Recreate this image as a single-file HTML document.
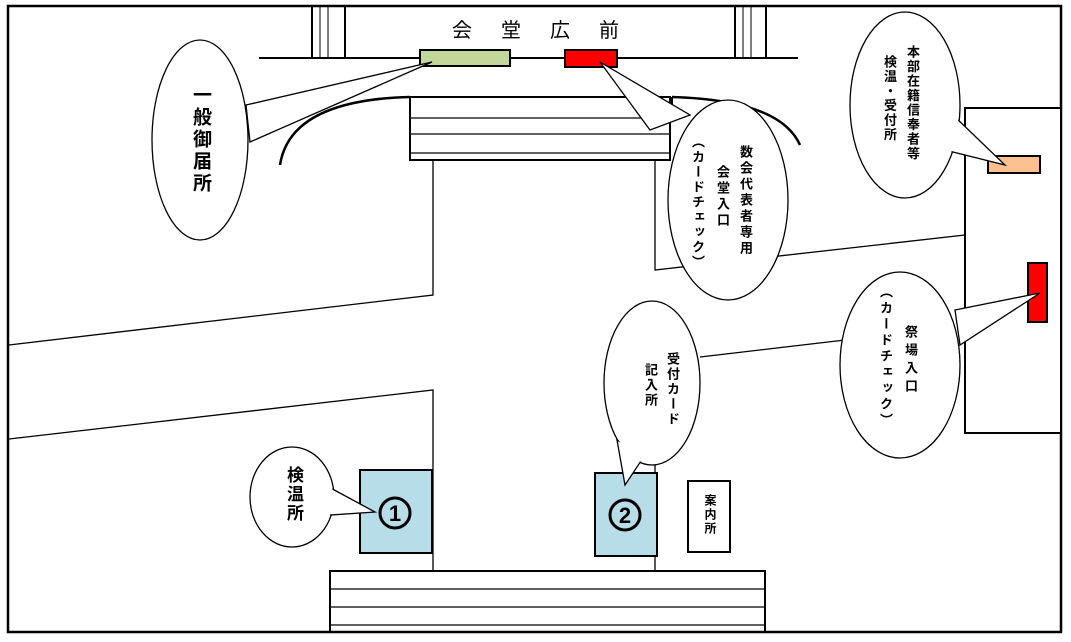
<!DOCTYPE html>
<html><head><meta charset="utf-8"><style>
html,body{margin:0;padding:0;background:#fff}
#w{position:relative;width:1071px;height:642px;overflow:hidden;font-family:"Liberation Sans","Noto Sans CJK JP",sans-serif}
.v{position:absolute;writing-mode:vertical-rl;font-weight:bold;font-size:13px;line-height:14px;width:14px;color:#000;white-space:nowrap;letter-spacing:3px}
.t{position:absolute;font-weight:bold;color:#000}
</style></head><body><div id="w">
<svg width="1071" height="642" style="position:absolute;left:0;top:0" fill="none" stroke="#000">
<rect x="8" y="6" width="1053" height="626" stroke-width="2.5"/>
<line x1="259" y1="58" x2="798" y2="58" stroke-width="2"/>
<g stroke-width="2"><line x1="312" y1="6" x2="312" y2="58"/><line x1="345" y1="6" x2="345" y2="58"/>
<line x1="735" y1="6" x2="735" y2="58"/><line x1="766" y1="6" x2="766" y2="58"/></g>
<g stroke-width="1"><line x1="320" y1="6" x2="320" y2="58"/><line x1="328" y1="6" x2="328" y2="58"/>
<line x1="743" y1="6" x2="743" y2="58"/><line x1="751" y1="6" x2="751" y2="58"/></g>
<rect x="420" y="50" width="90" height="16" fill="#c4d79b" stroke-width="2"/>
<rect x="565" y="50" width="52" height="17" fill="#f00" stroke-width="2"/>
<rect x="410" y="97" width="260" height="63" stroke-width="2" fill="#fff"/>
<g stroke-width="1.3"><line x1="410" y1="118" x2="670" y2="118"/><line x1="410" y1="134" x2="670" y2="134"/><line x1="410" y1="153" x2="670" y2="153"/></g>
<path d="M280 165 Q290 100 410 97" stroke-width="2.5"/>
<path d="M672 97 Q780 100 800 145" stroke-width="2.5"/>
<line x1="672" y1="97" x2="672" y2="118" stroke-width="2"/>
<g stroke-width="1.3">
<polyline points="433,160 433,295 9,345"/>
<polyline points="655,160 655,270 965,235"/>
<polyline points="9,439 433,390 433,570"/>
<line x1="655" y1="460" x2="655" y2="570"/>
<line x1="700" y1="357" x2="845" y2="340"/>
</g>
<rect x="330" y="571" width="435" height="61" stroke-width="2"/>
<g stroke-width="1.3"><line x1="330" y1="589" x2="765" y2="589"/><line x1="330" y1="607" x2="765" y2="607"/><line x1="330" y1="625" x2="765" y2="625"/></g>
<rect x="965" y="108" width="96" height="325" stroke-width="2" fill="#fff"/>
<rect x="988" y="156" width="52" height="17" fill="#fac090" stroke-width="2"/>
<rect x="1028" y="263" width="19" height="59" fill="#f00" stroke-width="2"/>
<rect x="360" y="470" width="72" height="83" fill="#b7dde8" stroke-width="2"/>
<rect x="595" y="473" width="62" height="83" fill="#b7dde8" stroke-width="2"/>
<rect x="688" y="481" width="42" height="71" fill="#fff" stroke-width="2"/>
<circle cx="395" cy="513" r="15" stroke-width="3"/>
<circle cx="625" cy="515" r="15" stroke-width="3"/>
<g fill="#000" stroke="none" font-family="Liberation Sans, sans-serif" font-weight="bold" font-size="22" text-anchor="middle">
<text x="395" y="521">1</text><text x="625" y="523">2</text></g>
<g stroke-width="1.3" fill="#fff">
<ellipse cx="200" cy="140" rx="48" ry="100"/>
<polygon points="246,105 432,62 250,142"/>
<ellipse cx="200" cy="140" rx="47" ry="99" stroke="none"/>
<ellipse cx="728" cy="200" rx="60" ry="100"/>
<polygon points="650,130 600,62 690,115"/>
<ellipse cx="728" cy="200" rx="59" ry="99" stroke="none"/>
<ellipse cx="905" cy="105" rx="55" ry="93"/>
<polygon points="953,115 1005,165 945,150"/>
<ellipse cx="905" cy="105" rx="54" ry="92" stroke="none"/>
<ellipse cx="900" cy="365" rx="60" ry="93"/>
<polygon points="955,310 1040,293 960,345"/>
<ellipse cx="900" cy="365" rx="59" ry="92" stroke="none"/>
<ellipse cx="652" cy="383" rx="48" ry="82"/>
<polygon points="617,440 625,485 645,455"/>
<ellipse cx="652" cy="383" rx="47" ry="81" stroke="none"/>
<ellipse cx="292" cy="497" rx="42" ry="50"/>
<polygon points="325,485 375,512 330,515"/>
<ellipse cx="292" cy="497" rx="41" ry="49" stroke="none"/>
</g>
</svg>
<div class="t" style="left:452px;top:14px;font-size:20px;letter-spacing:29px;font-weight:normal">会堂広前</div>
<div class="v" style="left:190px;top:85px;font-size:19px;line-height:20px;width:20px;letter-spacing:3px">一般御届所</div>
<div class="v" style="left:738px;top:145px">数会代表者専用</div>
<div class="v" style="left:715px;top:165px">会堂入口</div>
<div class="v" style="left:690px;top:135px;letter-spacing:2px">（カードチェック）</div>
<div class="v" style="left:905px;top:45px;letter-spacing:1.5px">本部在籍信奉者等</div>
<div class="v" style="left:882px;top:55px;letter-spacing:1.5px">検温・受付所</div>
<div class="v" style="left:903px;top:325px;letter-spacing:5px">祭場入口</div>
<div class="v" style="left:878px;top:285px;letter-spacing:3px">（カードチェック）</div>
<div class="v" style="left:665px;top:352px;letter-spacing:2px">受付カード</div>
<div class="v" style="left:643px;top:363px;letter-spacing:2px">記入所</div>
<div class="v" style="left:284px;top:466px;font-size:17px;line-height:18px;width:18px;letter-spacing:2px">検温所</div>
<div class="v" style="left:703px;top:494px;font-size:12px;letter-spacing:2px">案内所</div>
</div></body></html>
